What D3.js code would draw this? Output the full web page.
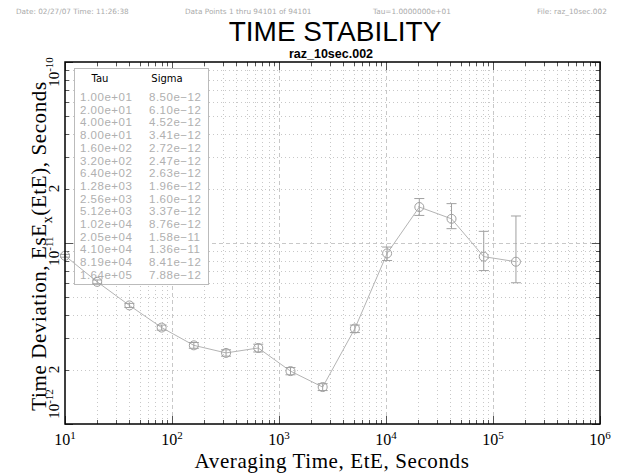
<!DOCTYPE html>
<meta charset="utf-8">
<script src="https://d3js.org/d3.v7.min.js"></script>
<style>
  body { margin: 0; background: white; }
  svg { display: block; }
</style>
<body>
<div id="chart"></div>
<script>

// data
var tau   = [10, 20, 40, 80, 160, 320, 640, 1280, 2560, 5120, 10240, 20480, 40960, 81920, 163840]
var sigma = [8.50e-12, 6.10e-12, 4.52e-12, 3.41e-12, 2.72e-12, 2.47e-12, 2.63e-12, 1.96e-12,
             1.60e-12, 3.37e-12, 8.76e-12, 1.58e-11, 1.36e-11, 8.41e-12, 7.88e-12]
var errLo = [8.35e-12, 5.95e-12, 4.40e-12, 3.30e-12, 2.62e-12, 2.37e-12, 2.50e-12, 1.87e-12,
             1.53e-12, 3.20e-12, 8.00e-12, 1.42e-11, 1.20e-11, 7.04e-12, 6.03e-12]
var errHi = [8.65e-12, 6.25e-12, 4.64e-12, 3.52e-12, 2.82e-12, 2.57e-12, 2.76e-12, 2.05e-12,
             1.67e-12, 3.52e-12, 9.50e-12, 1.76e-11, 1.65e-11, 1.16e-11, 1.41e-11]
var tauLabels   = ["1.00e+01", "2.00e+01", "4.00e+01", "8.00e+01", "1.60e+02", "3.20e+02", "6.40e+02", "1.28e+03",
                   "2.56e+03", "5.12e+03", "1.02e+04", "2.05e+04", "4.10e+04", "8.19e+04", "1.64e+05"]
var sigmaLabels = ["8.50e\u221212", "6.10e\u221212", "4.52e\u221212", "3.41e\u221212", "2.72e\u221212", "2.47e\u221212",
                   "2.63e\u221212", "1.96e\u221212", "1.60e\u221212", "3.37e\u221212", "8.76e\u221212", "1.58e\u221211",
                   "1.36e\u221211", "8.41e\u221212", "7.88e\u221212"]
var xTickExp = [1, 2, 3, 4, 5, 6]
var yTicks = [
  {v: 1e-10, base: "10", sup: "-10", dy: 10},
  {v: 2e-11, base: "2", sup: "", dy: 0},
  {v: 1e-11, base: "10", sup: "-11", dy: 8},
  {v: 2e-12, base: "2", sup: "", dy: 0},
  {v: 1e-12, base: "10", sup: "-12", dy: -20}
]

var width = 630,
    height = 475,
    margin = {top: 62, right: 30, bottom: 51, left: 65}
var w = width - margin.left - margin.right,
    h = height - margin.top - margin.bottom

var svg = d3.select("#chart").append("svg")
    .attr("width", width)
    .attr("height", height)

// header line
var hdr = svg.append("g")
    .style("font-family", "'DejaVu Sans', sans-serif")
    .style("font-size", "7.3px")
    .attr("fill", "#aaa")
hdr.append("text").attr("x", 16).attr("y", 14).text("Date: 02/27/07   Time: 11:26:38")
hdr.append("text").attr("x", 185).attr("y", 14).text("Data Points 1 thru 94101 of 94101")
hdr.append("text").attr("x", 373).attr("y", 14).text("Tau=1.0000000e+01")
hdr.append("text").attr("x", 537).attr("y", 14).text("File: raz_10sec.002")

svg.append("text")
    .attr("x", 335).attr("y", 41)
    .attr("text-anchor", "middle")
    .style("font-family", "'Liberation Sans', Arial, sans-serif")
    .style("font-size", "28px")
    .text("TIME STABILITY")

svg.append("text")
    .attr("x", 331).attr("y", 57.5)
    .attr("text-anchor", "middle")
    .style("font-family", "'Liberation Sans', Arial, sans-serif")
    .style("font-weight", "bold")
    .style("font-size", "12.5px")
    .text("raz_10sec.002")

var g = svg.append("g")
    .attr("transform", "translate(" + margin.left + "," + margin.top + ")")

var x = d3.scaleLog().domain([1e1, 1e6]).range([0, w])
var y = d3.scaleLog().domain([1e-12, 1e-10]).range([h, 0])

// tick values: majors and minors
var xMajor = xTickExp.map(function(e) { return Math.pow(10, e) })
var xMinor = [], yMinor = []
xMajor.slice(0, -1).forEach(function(d) { for (var k = 2; k < 10; k++) xMinor.push(d * k) })
;[1e-12, 1e-11].forEach(function(d) { for (var k = 2; k < 10; k++) yMinor.push(d * k) })
var yMajor = [1e-12, 1e-11, 1e-10]

// grid
var grid = g.append("g").attr("stroke", "#c8c8c8").attr("stroke-width", 1)
grid.selectAll(".vmin").data(xMinor).enter().append("line")
    .attr("x1", function(d) { return Math.round(x(d)) + 0.5 })
    .attr("x2", function(d) { return Math.round(x(d)) + 0.5 })
    .attr("y1", 0).attr("y2", h)
    .attr("stroke-dasharray", "1,3")
grid.selectAll(".vmaj").data(xMajor.slice(1, -1)).enter().append("line")
    .attr("x1", function(d) { return Math.round(x(d)) + 0.5 })
    .attr("x2", function(d) { return Math.round(x(d)) + 0.5 })
    .attr("y1", 0).attr("y2", h)
    .attr("stroke-dasharray", "4,3")
grid.selectAll(".hmin").data(yMinor).enter().append("line")
    .attr("y1", function(d) { return Math.round(y(d)) + 0.5 })
    .attr("y2", function(d) { return Math.round(y(d)) + 0.5 })
    .attr("x1", 0).attr("x2", w)
    .attr("stroke-dasharray", "1,3")
grid.append("line")
    .attr("y1", Math.round(y(1e-11)) + 0.5).attr("y2", Math.round(y(1e-11)) + 0.5)
    .attr("x1", 0).attr("x2", w)
    .attr("stroke-dasharray", "4,3")

// inward ticks on all four sides
var ticks = g.append("g").attr("stroke", "#555").attr("stroke-width", 1)
function vt(list, len) {
  list.forEach(function(d) {
    var px = Math.round(x(d)) + 0.5
    ticks.append("line").attr("x1", px).attr("x2", px).attr("y1", h).attr("y2", h - len)
    ticks.append("line").attr("x1", px).attr("x2", px).attr("y1", 0).attr("y2", len)
  })
}
function ht(list, len) {
  list.forEach(function(d) {
    var py = Math.round(y(d)) + 0.5
    ticks.append("line").attr("y1", py).attr("y2", py).attr("x1", 0).attr("x2", len)
    ticks.append("line").attr("y1", py).attr("y2", py).attr("x1", w).attr("x2", w - len)
  })
}
vt(xMinor, 4); vt(xMajor, 8)
ht(yMinor, 4); ht(yMajor, 8)

// legend table
var lg = g.append("g").attr("transform", "translate(9,6)")
lg.append("rect")
    .attr("x", 0.5).attr("y", 0.5)
    .attr("width", 134).attr("height", 216)
    .attr("fill", "white").attr("stroke", "#bbb")
lg.append("text").attr("x", 26).attr("y", 14).attr("text-anchor", "middle")
    .style("font-family", "'DejaVu Sans', sans-serif").style("font-size", "10px")
    .text("Tau")
lg.append("text").attr("x", 93).attr("y", 14).attr("text-anchor", "middle")
    .style("font-family", "'DejaVu Sans', sans-serif").style("font-size", "10px")
    .text("Sigma")
var rows = lg.selectAll(".row").data(tau).enter().append("g")
    .attr("transform", function(d, i) { return "translate(0," + (33 + i * 12.7) + ")" })
    .style("font-family", "'Liberation Sans', Arial, sans-serif")
    .style("font-size", "11.5px")
    .style("letter-spacing", "0.5px")
    .attr("fill", "#b0b0b0")
rows.append("text").attr("x", 6).text(function(d, i) { return tauLabels[i] })
rows.append("text").attr("x", 75).text(function(d, i) { return sigmaLabels[i] })

// data line, error bars, markers
var pts = tau.map(function(t, i) { return {t: t, s: sigma[i], lo: errLo[i], hi: errHi[i]} })
var col = "#a0a0a0"

g.append("path")
    .datum(pts)
    .attr("fill", "none")
    .attr("stroke", "#b4b4b4")
    .attr("stroke-width", 1)
    .attr("d", d3.line()
      .x(function(d) { return x(d.t) })
      .y(function(d) { return y(d.s) }))

var eb = g.append("g").attr("stroke", col).attr("stroke-width", 1)
pts.forEach(function(d) {
  var px = x(d.t)
  eb.append("line").attr("x1", px).attr("x2", px).attr("y1", y(d.lo)).attr("y2", y(d.hi))
  eb.append("line").attr("x1", px - 5).attr("x2", px + 5).attr("y1", y(d.lo)).attr("y2", y(d.lo))
  eb.append("line").attr("x1", px - 5).attr("x2", px + 5).attr("y1", y(d.hi)).attr("y2", y(d.hi))
})

g.selectAll(".pt").data(pts).enter().append("circle")
    .attr("cx", function(d) { return x(d.t) })
    .attr("cy", function(d) { return y(d.s) })
    .attr("r", 4.5)
    .attr("fill", "none")
    .attr("stroke", col)

// frame
g.append("rect")
    .attr("x", 0).attr("y", 0).attr("width", w).attr("height", h)
    .attr("fill", "none").attr("stroke", "black").attr("stroke-width", 1.5)

// x tick labels
var serif = "'Liberation Serif', 'Times New Roman', serif"
var xl = svg.append("g").style("font-family", serif).style("font-size", "16px")
xMajor.forEach(function(d, i) {
  var t = xl.append("text")
      .attr("x", margin.left + x(d))
      .attr("y", margin.top + h + 21)
      .attr("text-anchor", "middle")
  t.append("tspan").text("10")
  t.append("tspan").attr("dy", -6).style("font-size", "11px").text(xTickExp[i])
})

// y tick labels, rotated
yTicks.forEach(function(d) {
  var t = svg.append("text")
      .attr("transform", "translate(" + (margin.left - 6) + "," + (margin.top + y(d.v) + d.dy) + ") rotate(-90)")
      .attr("text-anchor", "middle")
      .style("font-family", serif)
      .style("font-size", "15px")
  t.append("tspan").text(d.base)
  if (d.sup) t.append("tspan").attr("dy", -6).style("font-size", "11px").text(d.sup)
})

// axis titles
svg.append("text")
    .attr("x", 332).attr("y", 468)
    .attr("text-anchor", "middle")
    .style("font-family", serif)
    .style("font-size", "21px")
    .style("letter-spacing", "0.6px")
    .text("Averaging Time, EtE, Seconds")

var yt = svg.append("text")
    .attr("transform", "translate(46," + (margin.top + h / 2 + 3) + ") rotate(-90)")
    .attr("text-anchor", "middle")
    .style("font-family", serif)
    .style("font-size", "21px")
    .style("letter-spacing", "0.6px")
yt.append("tspan").text("Time Deviation, EsE")
yt.append("tspan").attr("dy", 6).style("font-size", "14px").text("x")
yt.append("tspan").attr("dy", -6).text("(EtE), Seconds")

</script>
</body>
